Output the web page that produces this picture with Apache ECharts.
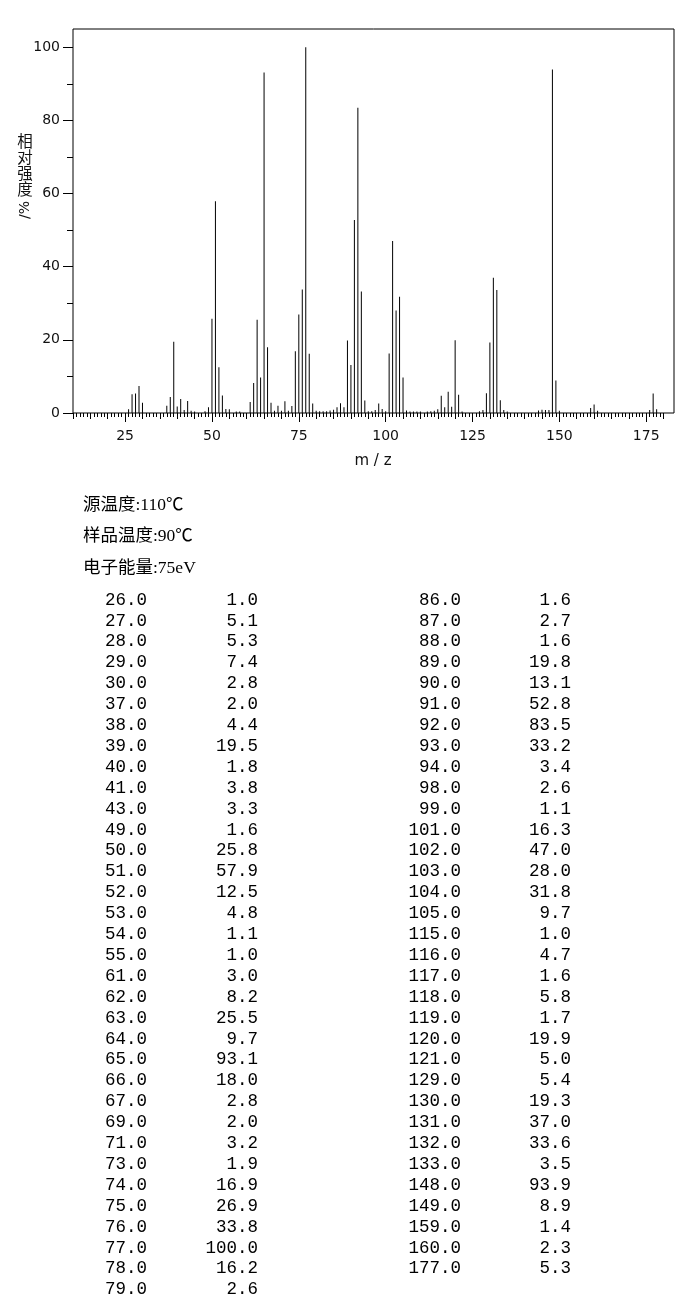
<!DOCTYPE html>
<html>
<head>
<meta charset="utf-8">
<script src="https://cdn.jsdelivr.net/npm/echarts@6/dist/echarts.min.js"></script>
<style>
html,body{margin:0;padding:0;background:#fff;}
#chart{width:687px;height:1296px;}
</style>
</head>
<body>
<div id="chart"></div>
<script>
// m/z values listed in the peak table
const tableMz = [26,27,28,29,30,37,38,39,40,41,43,49,50,51,52,53,54,55,61,62,63,64,65,66,67,69,71,73,74,75,76,77,78,79,
  86,87,88,89,90,91,92,93,94,98,99,101,102,103,104,105,115,116,117,118,119,120,121,129,130,131,132,133,148,149,159,160,177];
// relative intensities (%) for the table peaks
const tableIntensity = [1.0,5.1,5.3,7.4,2.8,2.0,4.4,19.5,1.8,3.8,3.3,1.6,25.8,57.9,12.5,4.8,1.1,1.0,3.0,8.2,25.5,9.7,93.1,18.0,2.8,2.0,3.2,1.9,16.9,26.9,33.8,100.0,16.2,2.6,
  1.6,2.7,1.6,19.8,13.1,52.8,83.5,33.2,3.4,2.6,1.1,16.3,47.0,28.0,31.8,9.7,1.0,4.7,1.6,5.8,1.7,19.9,5.0,5.4,19.3,37.0,33.6,3.5,93.9,8.9,1.4,2.3,5.3];
// small peaks (< 1 %) visible only in the spectrum (estimated)
const minorMz = [42,44,45,48,57,58,68,70,72,80,81,82,83,84,85,95,96,97,100,106,107,108,109,110,112,113,114,122,127,128,134,135,144,145,146,147,150,161,176,178];
const minorIntensity = [0.8,0.6,0.4,0.5,0.4,0.4,0.6,0.6,0.6,0.6,0.5,0.5,0.5,0.7,0.9,0.5,0.5,0.8,0.5,0.7,0.4,0.4,0.4,0.4,0.4,0.5,0.6,0.4,0.5,0.8,0.8,0.4,0.7,0.9,0.8,0.8,0.6,0.6,0.8,1.0];
// axis ticks
const xMajorTicks = [25,50,75,100,125,150,175];
const yTicks = [0,20,40,60,80,100];
// info lines
const infoLines = ['源温度:110℃','样品温度:90℃','电子能量:75eV'];
const yAxisTitle = '相对强度';
const yAxisUnit = '/%';
const xAxisTitle = 'm / z';

const leftRows = 34;

const peakData = [];
tableMz.forEach((m,i)=>peakData.push([m, tableIntensity[i]]));
minorMz.forEach((m,i)=>peakData.push([m, minorIntensity[i]]));

const graphics = [];
const monoFont = '17.5px "Liberation Mono", "DejaVu Sans Mono", monospace';
tableMz.forEach((m,i)=>{
  const right = i >= leftRows;
  const row = right ? i - leftRows : i;
  const y = 600 + row * 20.9;
  graphics.push({type:'text', x: right ? 461 : 147, y: y,
    style:{text: m.toFixed(1), align:'right', verticalAlign:'middle', font: monoFont, fill:'#000'}});
  graphics.push({type:'text', x: right ? 571 : 258, y: y,
    style:{text: tableIntensity[i].toFixed(1), align:'right', verticalAlign:'middle', font: monoFont, fill:'#000'}});
});
const infoY = [505, 536, 568];
infoLines.forEach((t,i)=>{
  graphics.push({type:'text', x:83, y:infoY[i],
    style:{text:t, align:'left', verticalAlign:'middle', font:'17.5px "Liberation Serif", "Noto Sans CJK SC"', fill:'#000'}});
});
yAxisTitle.split('').forEach((ch,i)=>{
  graphics.push({type:'text', x:25, y:141 + i*16,
    style:{text: ch, align:'center', verticalAlign:'middle', font:'15.5px "Noto Sans CJK SC"', fill:'#111'}});
});
graphics.push({type:'text', x:25, y:210, rotation:Math.PI/2,
  style:{text: yAxisUnit, align:'center', verticalAlign:'middle', font:'14px "DejaVu Sans"', fill:'#111'}});
graphics.push({type:'text', x:373, y:461,
  style:{text: xAxisTitle, align:'center', verticalAlign:'middle', font:'15px "DejaVu Sans"', fill:'#111'}});

const pxPerUnit = 601/173;
const tickFont = {fontFamily:'DejaVu Sans', fontSize:14, color:'#111'};

const option = {
  animation:false,
  backgroundColor:'#fff',
  grid:[
    {left:73, top:29, width:601, height:384, show:true, borderColor:'#000', borderWidth:1, backgroundColor:'transparent'},
    {left:73, top:29, width:170*pxPerUnit, height:384, show:false},
    {left:73, top:413 - 100*384/105, width:601, height:100*384/105, show:false}
  ],
  xAxis:[
    {gridIndex:0, type:'value', min:10, max:183, axisLine:{show:false}, axisTick:{show:false}, axisLabel:{show:false}, splitLine:{show:false}},
    {gridIndex:1, type:'value', min:10, max:180, interval:5, position:'bottom',
      axisLine:{show:false}, axisLabel:{show:false}, splitLine:{show:false},
      axisTick:{show:true, length:6, lineStyle:{color:'#000', width:1}},
      minorTick:{show:true, splitNumber:5, length:4, lineStyle:{color:'#000', width:1}}},
    {gridIndex:1, type:'value', min:10, max:180, position:'bottom',
      axisLine:{show:false}, splitLine:{show:false},
      axisTick:{show:true, length:9, customValues:xMajorTicks, lineStyle:{color:'#000', width:1}},
      axisLabel:Object.assign({show:true, margin:16, customValues:xMajorTicks}, tickFont)},
    {gridIndex:2, type:'value', min:10, max:183, show:false}
  ],
  yAxis:[
    {gridIndex:0, type:'value', min:0, max:105, axisLine:{show:false}, axisTick:{show:false}, axisLabel:{show:false}, splitLine:{show:false}},
    {gridIndex:1, type:'value', min:0, max:1, show:false},
    {gridIndex:2, type:'value', min:0, max:100, interval:20, position:'left',
      axisLine:{show:false}, splitLine:{show:false},
      axisTick:{show:true, length:10, lineStyle:{color:'#000', width:1}},
      minorTick:{show:true, splitNumber:2, length:6, lineStyle:{color:'#000', width:1}},
      axisLabel:Object.assign({show:true, margin:13, customValues:yTicks}, tickFont)}
  ],
  series:[
    {type:'bar', xAxisIndex:0, yAxisIndex:0, data:peakData, barWidth:1, itemStyle:{color:'#000'}, silent:true}
  ],
  graphic:graphics
};

const chart = echarts.init(document.getElementById('chart'), null, {renderer:'canvas'});
chart.setOption(option);
</script>
</body>
</html>
